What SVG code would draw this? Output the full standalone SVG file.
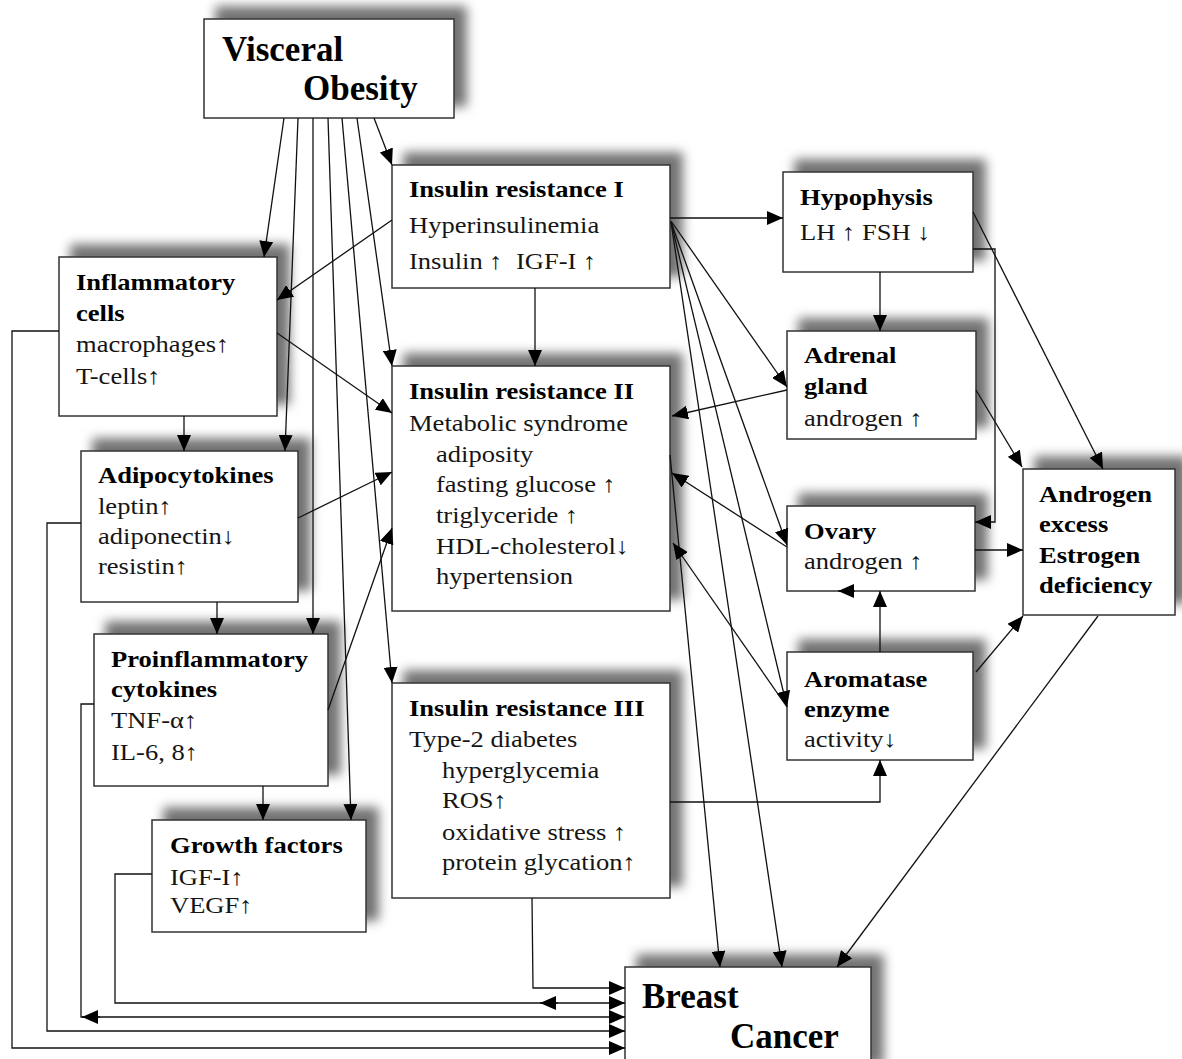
<svg xmlns="http://www.w3.org/2000/svg" width="1182" height="1059" viewBox="0 0 1182 1059">
<style>
text { font-family: "Liberation Serif", "Times New Roman", serif; fill:#151515; }
.t { font-size:23.5px; transform-box: fill-box; transform-origin: left center; transform: scaleX(1.13); }
.b { font-weight:bold; fill:#000; }
.big { font-size:35px; font-weight:bold; fill:#000; }
.box { fill:#fff; stroke:#333; stroke-width:1.5; filter:url(#sh); }
.c { fill:none; stroke:#111; stroke-width:1.3; marker-end:url(#ah); }
</style>
<defs>
<filter id="sh" x="-30%" y="-50%" width="160%" height="200%">
<feGaussianBlur in="SourceAlpha" stdDeviation="5.5"/>
<feOffset dx="12" dy="-12" result="b"/>
<feFlood flood-color="#000" flood-opacity="0.55"/>
<feComposite in2="b" operator="in"/>
<feMerge><feMergeNode/><feMergeNode in="SourceGraphic"/></feMerge>
</filter>
<marker id="ah" markerUnits="userSpaceOnUse" markerWidth="16" markerHeight="14" viewBox="0 0 16 14" refX="16" refY="7" orient="auto">
<path d="M0,0 L16,7 L0,14 z" fill="#000"/>
</marker>
</defs>
<rect width="1182" height="1059" fill="#fff"/>

<g id="visceral-obesity">
<rect class="box" x="204" y="19" width="250" height="99"/>
<text class="big" x="222" y="61">Visceral</text>
<text class="big" x="303" y="100">Obesity</text>
</g>

<g id="insulin-resistance-1">
<rect class="box" x="392" y="165" width="278" height="123"/>
<text class="t b" x="409" y="197">Insulin resistance I</text>
<text class="t" x="409" y="233">Hyperinsulinemia</text>
<text class="t" x="409" y="269">Insulin ↑&#160; IGF-I ↑</text>
</g>

<g id="insulin-resistance-2">
<rect class="box" x="392" y="366" width="278" height="245"/>
<text class="t b" x="409" y="399">Insulin resistance II</text>
<text class="t" x="409" y="431">Metabolic syndrome</text>
<text class="t" x="436" y="462">adiposity</text>
<text class="t" x="436" y="492">fasting glucose ↑</text>
<text class="t" x="436" y="523">triglyceride ↑</text>
<text class="t" x="436" y="554">HDL-cholesterol↓</text>
<text class="t" x="436" y="584">hypertension</text>
</g>

<g id="insulin-resistance-3">
<rect class="box" x="392" y="683" width="278" height="215"/>
<text class="t b" x="409" y="716">Insulin resistance III</text>
<text class="t" x="409" y="747">Type-2 diabetes</text>
<text class="t" x="442" y="778">hyperglycemia</text>
<text class="t" x="442" y="808">ROS↑</text>
<text class="t" x="442" y="840">oxidative stress ↑</text>
<text class="t" x="442" y="870">protein glycation↑</text>
</g>

<g id="hypophysis">
<rect class="box" x="783" y="172" width="190" height="100"/>
<text class="t b" x="800" y="205">Hypophysis</text>
<text class="t" x="800" y="240">LH ↑ FSH ↓</text>
</g>

<g id="adrenal-gland">
<rect class="box" x="787" y="331" width="189" height="108"/>
<text class="t b" x="804" y="363">Adrenal</text>
<text class="t b" x="804" y="394">gland</text>
<text class="t" x="804" y="426">androgen ↑</text>
</g>

<g id="ovary">
<rect class="box" x="787" y="506" width="188" height="85"/>
<text class="t b" x="804" y="539">Ovary</text>
<text class="t" x="804" y="569">androgen ↑</text>
</g>

<g id="aromatase-enzyme">
<rect class="box" x="787" y="652" width="186" height="108"/>
<text class="t b" x="804" y="687">Aromatase</text>
<text class="t b" x="804" y="717">enzyme</text>
<text class="t" x="804" y="747">activity↓</text>
</g>

<g id="androgen-excess">
<rect class="box" x="1023" y="469" width="152" height="146"/>
<text class="t b" x="1039" y="502">Androgen</text>
<text class="t b" x="1039" y="532">excess</text>
<text class="t b" x="1039" y="563">Estrogen</text>
<text class="t b" x="1039" y="593">deficiency</text>
</g>

<g id="inflammatory-cells">
<rect class="box" x="59" y="257" width="218" height="159"/>
<text class="t b" x="76" y="290">Inflammatory</text>
<text class="t b" x="76" y="321">cells</text>
<text class="t" x="76" y="352">macrophages↑</text>
<text class="t" x="76" y="384">T-cells↑</text>
</g>

<g id="adipocytokines">
<rect class="box" x="81" y="451" width="217" height="151"/>
<text class="t b" x="98" y="483">Adipocytokines</text>
<text class="t" x="98" y="514">leptin↑</text>
<text class="t" x="98" y="544">adiponectin↓</text>
<text class="t" x="98" y="574">resistin↑</text>
</g>

<g id="proinflammatory-cytokines">
<rect class="box" x="94" y="634" width="234" height="152"/>
<text class="t b" x="111" y="667">Proinflammatory</text>
<text class="t b" x="111" y="697">cytokines</text>
<text class="t" x="111" y="728">TNF-α↑</text>
<text class="t" x="111" y="760">IL-6, 8↑</text>
</g>

<g id="growth-factors">
<rect class="box" x="152" y="820" width="214" height="112"/>
<text class="t b" x="170" y="853">Growth factors</text>
<text class="t" x="170" y="885">IGF-I↑</text>
<text class="t" x="170" y="913">VEGF↑</text>
</g>

<g id="breast-cancer">
<rect class="box" x="625" y="967" width="246" height="110"/>
<text class="big" x="642" y="1008">Breast</text>
<text class="big" x="730" y="1048">Cancer</text>
</g>

<g id="connectors">
<path class="c" d="M284,118 L264,257"/>
<path class="c" d="M298,118 L285,451"/>
<path class="c" d="M313,118 L313,634"/>
<path class="c" d="M328,118 L351,820"/>
<path class="c" d="M342,118 L392,683"/>
<path class="c" d="M357,118 L392,366"/>
<path class="c" d="M374,118 L392,165"/>
<path class="c" d="M392,220 L277,300"/>
<path class="c" d="M535,288 L535,366"/>
<path class="c" d="M670,218 L783,218"/>
<path class="c" d="M671,221 L787,387"/>
<path class="c" d="M671,222 L787,545"/>
<path class="c" d="M671,222 L787,707"/>
<path class="c" d="M671,222 L782,967"/>
<path class="c" d="M670,455 L720,967"/>
<path class="c" d="M880,272 L880,331"/>
<path class="c" d="M973,212 L1103,469"/>
<path class="c" d="M973,249 L995,249 L995,522 L975,522"/>
<path class="c" d="M976,390 L1022,467"/>
<path class="c" d="M787,390 L672,416"/>
<path class="c" d="M975,550 L1023,550"/>
<path class="c" d="M787,547 L672,473"/>
<path class="c" d="M855,591 L838,591"/>
<path class="c" d="M880,652 L880,591"/>
<path class="c" d="M976,672 L1023,616"/>
<path class="c" d="M787,707 L673,543"/>
<path class="c" d="M670,802 L880,802 L880,760"/>
<path class="c" d="M532,898 L533,988 L625,988"/>
<path class="c" d="M1098,616 L837,967"/>
<path class="c" d="M277,333 L392,413"/>
<path class="c" d="M184,416 L184,451"/>
<path class="c" d="M298,518 L392,472"/>
<path class="c" d="M217,602 L217,634"/>
<path class="c" d="M328,710 L392,528"/>
<path class="c" d="M263,786 L263,820"/>
<path class="c" d="M152,874 L115,874 L115,1003 L625,1003"/>
<path class="c" d="M558,1003 L540,1003"/>
<path class="c" d="M94,704 L81,704 L81,1017 L625,1017"/>
<path class="c" d="M100,1017 L82,1017"/>
<path class="c" d="M81,523 L47,523 L47,1031 L625,1031"/>
<path class="c" d="M59,331 L12,331 L12,1048 L625,1048"/>
</g>
</svg>
